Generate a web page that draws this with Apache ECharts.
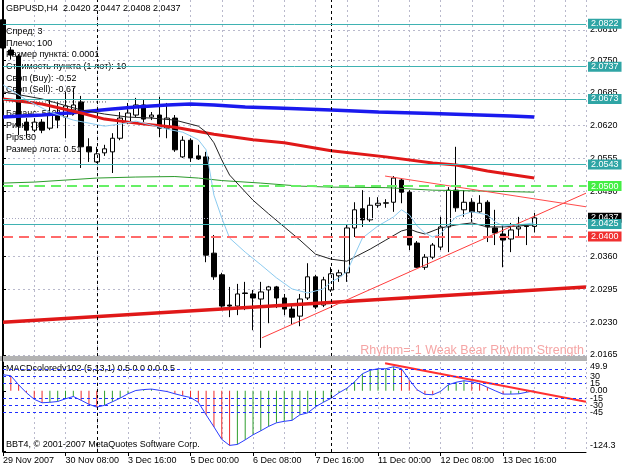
<!DOCTYPE html>
<html lang="ru">
<head>
<meta charset="UTF-8">
<title>GBPUSD,H4</title>
<script src="https://cdn.jsdelivr.net/npm/echarts@6/dist/echarts.min.js"></script>
<style>
  html, body { margin: 0; padding: 0; background: #fff; }
  #chart { width: 625px; height: 469px; }
</style>
</head>
<body>
<div id="chart"></div>
<script>
// H4 bars, 29 Nov 2007 00:00 .. 13 Dec 2007
var opens  = [2.0830,2.0770,2.0758,2.0627,2.0611,2.0627,2.0615,2.0641,2.0637,2.0651,
              2.0667,2.0578,2.0548,2.0566,2.0568,2.0595,2.0627,2.0641,2.0661,2.0637,
              2.0641,2.0615,2.0635,2.0558,2.0591,2.0560,2.0558,2.0367,2.0324,2.0264,
              2.0262,2.0288,2.0286,2.0276,2.0294,2.0300,2.0278,2.0256,2.0242,2.0278,
              2.0320,2.0264,2.0294,2.0322,2.0328,2.0417,2.0455,2.0433,2.0462,2.0466,
              2.0468,2.0512,2.0488,2.0387,2.0339,2.0359,2.0379,2.0419,2.0492,2.0453,
              2.0468,2.0449,2.0468,2.0417,2.0405,2.0395,2.0415,2.0421,2.0420];
var highs  = [2.0836,2.0776,2.0762,2.0635,2.0635,2.0633,2.0671,2.0667,2.0687,2.0695,
              2.0679,2.0595,2.0578,2.0582,2.0605,2.0647,2.0665,2.0675,2.0671,2.0647,
              2.0677,2.0665,2.0641,2.0599,2.0595,2.0582,2.0568,2.0403,2.0328,2.0300,
              2.0306,2.0310,2.0294,2.0310,2.0302,2.0302,2.0286,2.0266,2.0286,2.0347,
              2.0324,2.0320,2.0339,2.0334,2.0423,2.0468,2.0492,2.0478,2.0478,2.0474,
              2.0520,2.0516,2.0492,2.0391,2.0365,2.0387,2.0439,2.0498,2.0578,2.0492,
              2.0476,2.0482,2.0472,2.0453,2.0423,2.0427,2.0439,2.0423,2.0447];
var lows   = [2.0770,2.0751,2.0601,2.0595,2.0607,2.0605,2.0611,2.0615,2.0595,2.0641,
              2.0536,2.0548,2.0546,2.0560,2.0526,2.0591,2.0623,2.0637,2.0627,2.0631,
              2.0597,2.0595,2.0568,2.0556,2.0548,2.0552,2.0349,2.0314,2.0258,2.0240,
              2.0244,2.0254,2.0214,2.0179,2.0228,2.0258,2.0244,2.0226,2.0222,2.0274,
              2.0256,2.0260,2.0290,2.0310,2.0310,2.0399,2.0419,2.0429,2.0457,2.0457,
              2.0449,2.0466,2.0373,2.0338,2.0334,2.0355,2.0373,2.0369,2.0449,2.0439,
              2.0429,2.0447,2.0389,2.0383,2.0339,2.0369,2.0397,2.0383,2.0408];
var closes = [2.0774,2.0760,2.0619,2.0611,2.0627,2.0611,2.0645,2.0631,2.0659,2.0661,
              2.0578,2.0568,2.0564,2.0574,2.0595,2.0635,2.0645,2.0661,2.0633,2.0641,
              2.0615,2.0635,2.0572,2.0591,2.0556,2.0554,2.0363,2.0320,2.0262,2.0262,
              2.0286,2.0287,2.0278,2.0290,2.0300,2.0278,2.0256,2.0240,2.0276,2.0320,
              2.0260,2.0314,2.0326,2.0328,2.0417,2.0453,2.0433,2.0462,2.0466,2.0467,
              2.0516,2.0488,2.0383,2.0339,2.0359,2.0383,2.0419,2.0492,2.0457,2.0468,
              2.0449,2.0466,2.0419,2.0407,2.0393,2.0413,2.0419,2.0420,2.0437];

// time labels, one every 8 bars
var timeLabels = ['29 Nov 2007','30 Nov 08:00','3 Dec 16:00','5 Dec 00:00','6 Dec 08:00',
                  '7 Dec 16:00','11 Dec 00:00','12 Dec 08:00','13 Dec 16:00'];
var priceTicks = [2.0165,2.0230,2.0295,2.0360,2.0425,2.0490,2.0555,2.0620,2.0685,2.0750,2.0810];
var weekSeparators = [12, 42];

// moving averages as [bar, price]
var maBlue  = [[0,2.0637],[5,2.0641],[10,2.0647],[14,2.0653],[17,2.0657],[21,2.0661],[24,2.0663],
               [27,2.0661],[31,2.0657],[35,2.0655],[42,2.0651],[48,2.0647],[55,2.0644],[61,2.0641],
               [65,2.0639],[68,2.0637]];
var maRed   = [[0,2.0673],[5,2.0663],[10,2.0645],[13,2.0633],[17,2.0625],[22,2.0617],[27,2.0603],
               [32,2.0592],[36,2.0586],[42,2.0570],[49,2.0558],[55,2.0546],[58,2.0542],[62,2.0530],
               [68,2.0516]];
var maGreen = [[0,2.0506],[4,2.0508],[8,2.0512],[12,2.0516],[17,2.0518],[22,2.0519],[25,2.0516],
               [28,2.0511],[33,2.0506],[38,2.0500],[42,2.0498],[49,2.0497],[55,2.0492],[62,2.0490],
               [68,2.0488]];
var maBlack = [[0,2.0687],[5,2.0673],[10,2.0651],[13,2.0643],[16,2.0637],[19,2.0635],[22,2.0631],
               [25,2.0619],[26,2.0607],[27,2.0586],[28,2.0552],[29,2.0522],[32,2.0472],[34,2.0445],
               [36,2.0419],[38,2.0393],[40,2.0365],[42,2.0355],[44,2.0351],[45,2.0359],[47,2.0375],
               [49,2.0393],[51,2.0411],[52,2.0415],[53,2.0409],[54,2.0405],[56,2.0417],[58,2.0423],
               [60,2.0427],[62,2.0419],[64,2.0419],[66,2.0421],[68,2.0423]];
var maAqua  = [[0,2.0701],[3,2.0671],[6,2.0647],[9,2.0631],[13,2.0619],[15,2.0623],[17,2.0629],
               [19,2.0621],[21,2.0613],[23,2.0607],[25,2.0592],[26,2.0572],[27,2.0482],[28,2.0437],
               [29,2.0397],[31,2.0369],[33,2.0344],[35,2.0318],[37,2.0296],[39,2.0288],[41,2.0296],
               [42,2.0310],[43,2.0318],[44,2.0330],[45,2.0363],[46,2.0397],[48,2.0421],[50,2.0439],
               [51,2.0453],[52,2.0443],[53,2.0421],[54,2.0407],[55,2.0399],[56,2.0405],[57,2.0423],
               [58,2.0439],[60,2.0449],[62,2.0443],[63,2.0429],[64,2.0421],[66,2.0423],[68,2.0427]];

// trend lines [bar, price]
var trendUp     = [[33.15,2.0199],[74.62,2.0486]];
var trendDown   = [[48.9,2.0520],[74.62,2.0459]];
var trendLong   = [[0,2.0230],[74.62,2.0300]];
var shortDotted = [[0,2.0667],[13.2,2.0667]];

// horizontal levels
var tealLevels = [2.0822, 2.0737, 2.0673, 2.0543];
var bidPrice = 2.0437;
var tealLevelLow = 2.0425;
var greenLevel = 2.0500;
var redLevel = 2.0400;

// MACD (5,13,1)
var macd = [32.9,30.8,12.3,-4.1,-17.5,-24.6,-23.6,-22.0,-16.4,-11.7,
            -19.5,-27.7,-33.5,-29.8,-22.6,-15.0,-6.2,0.6,2.5,3.5,
            1.0,-1.6,-6.2,-10.3,-13.8,-23.6,-49.3,-74.0,-99.6,-112.0,
            -110.0,-100.6,-90.3,-82.0,-73.0,-65.7,-62.6,-60.6,-49.3,-45.2,
            -32.9,-23.6,-15.4,-4.1,5.1,18.5,34.9,42.1,45.2,45.2,
            49.3,45.2,22.6,2.1,-7.2,-8.2,-1.4,12.3,17.5,20.5,
            18.5,14.4,7.2,0.0,-6.8,-6.8,-6.2,-3.1,0.0];
var macdLevels = [45, 30, 15, -15, -30, -45];
var macdTicks = [49.9, 30, 15, 0, -15, -30, -45, -124.3];
var macdTickText = ['49.9', '30', '15', '0.00', '-15', '-30', '-45', '-124.3'];
var macdTrend = [[48.9,56.4],[74.62,-22.3]];

var FONT = '"Liberation Sans", Arial, sans-serif';
var X_MAX = 74.62;
var gridLine = { color: '#b9b9cc', type: [2, 3], width: 1 };

var chart = echarts.init(document.getElementById('chart'));

var candles = opens.map(function (o, i) { return [i, o, closes[i], lows[i], highs[i]]; });
var macdBars = macd.map(function (v, i) { return [i, v]; });
var tickBars = timeLabels.map(function (t, k) { return k * 8; });

function levelLine(value, color, type, width, labelBg) {
  return {
    yAxis: value,
    lineStyle: { color: color, type: type, width: width },
    label: {
      show: true, position: 'end', distance: 2,
      formatter: function () { return value.toFixed(4); },
      backgroundColor: labelBg, color: '#fff',
      fontFamily: FONT, fontSize: 9, padding: [1, 3, 0, 3]
    }
  };
}

function plainLine(data, color, width, type, xi, yi) {
  return {
    type: 'line', data: data, xAxisIndex: xi || 0, yAxisIndex: yi || 0,
    symbol: 'none', silent: true,
    lineStyle: { color: color, width: width, type: type || 'solid' }
  };
}

var levelItems = tealLevels.map(function (v) { return levelLine(v, '#3fb2b2', 'solid', 1, '#2fa5a5'); });
levelItems.push(levelLine(greenLevel, '#66f066', [10, 6], 2, '#44ee44'));
levelItems.push(levelLine(bidPrice, '#a8a8c0', [1, 2], 1, '#000'));
levelItems.push(levelLine(tealLevelLow, '#3fb2b2', 'solid', 1, '#2fa5a5'));
levelItems.push(levelLine(redLevel, '#ff6a6a', [10, 6], 2, '#f03030'));

var sepLine = {
  silent: true, symbol: ['none', 'none'], label: { show: false },
  lineStyle: { color: '#000', type: [3, 3], width: 1 },
  data: weekSeparators.map(function (b) { return { xAxis: b }; })
};

var lastBar = opens.length - 1;
var title = 'GBPUSD,H4  ' + [opens[lastBar], highs[lastBar], lows[lastBar], closes[lastBar]]
  .map(function (v) { return v.toFixed(4); }).join(' ');

var infoLines = [
  ['Спред: 3', 32], ['Плечо: 100', 43.5], ['Размер пункта: 0.0001', 55],
  ['Стоимость пункта (1 лот): 10', 67], ['Своп (Buy): -0.52', 79], ['Своп (Sell): -0.67', 90],
  ['Баланс: 5101.74', 114], ['Риск: 3%', 126], ['Pips:30', 138], ['Размер лота: 0.51', 150]
];

function txt(s, x, y, size, color, align) {
  return {
    type: 'text', x: x, y: y, z: 1, silent: true,
    style: { text: s, fill: color || '#000', font: (size || 9) + 'px ' + FONT,
             verticalAlign: 'middle', align: align || 'left' }
  };
}

var graphics = [
  { type: 'rect', z: 5, silent: true, shape: { x: 0, y: 356, width: 587, height: 5 },
    style: { fill: '#b3b3b3' } },
  { type: 'line', z: 5, silent: true, shape: { x1: 2.5, y1: 0, x2: 2.5, y2: 452 },
    style: { stroke: '#000', lineWidth: 1 } },
  txt(title, 6, 9),
  txt('MACDcoloredv102 (5,13,1) 0.5 0.0 0.0 0.5', 6, 369),
  txt('BBT4, © 2001-2007 MetaQuotes Software Corp.', 6, 445),
  txt('Rhythm=-1 Weak Bear Rhythm Strength', 584, 351, 12.5, '#f5a5a5', 'right')
];
infoLines.forEach(function (l) { graphics.push(txt(l[0], 6, l[1])); });

var option = {
  animation: false,
  backgroundColor: '#fff',
  textStyle: { fontFamily: FONT },
  grid: [
    { left: 3, top: 0, width: 583, height: 356 },
    { left: 3, top: 362, width: 583, height: 90 }
  ],
  xAxis: [
    { type: 'value', gridIndex: 0, min: 0, max: X_MAX, interval: 4,
      axisLine: { show: false }, axisTick: { show: false }, axisLabel: { show: false },
      splitLine: { show: true, lineStyle: gridLine } },
    { type: 'value', gridIndex: 1, min: 0, max: X_MAX, interval: 4, position: 'bottom',
      axisLine: { show: false }, axisTick: { show: false }, axisLabel: { show: false },
      splitLine: { show: true, lineStyle: gridLine } },
    { type: 'value', gridIndex: 1, min: 0, max: X_MAX, interval: 8, position: 'bottom',
      axisLine: { show: true, onZero: false, lineStyle: { color: '#000' } },
      axisTick: { show: true, length: 4, customValues: tickBars, lineStyle: { color: '#000' } },
      axisLabel: { customValues: tickBars, align: 'left', margin: 4, color: '#000', fontSize: 9,
                   fontFamily: FONT, showMaxLabel: true, hideOverlap: false,
                   formatter: function (v) { return timeLabels[Math.round(v / 8)] || ''; } },
      splitLine: { show: false } }
  ],
  yAxis: [
    { type: 'value', gridIndex: 0, position: 'right', min: 2.01629, max: 2.08693, scale: true,
      axisLine: { show: true, lineStyle: { color: '#000' } },
      axisTick: { show: true, length: 3, customValues: priceTicks, lineStyle: { color: '#000' } },
      axisLabel: { customValues: priceTicks, margin: 4, color: '#000', fontSize: 9, fontFamily: FONT,
                   formatter: function (v) { return v.toFixed(4); } },
      splitLine: { show: true, lineStyle: gridLine } },
    { type: 'value', gridIndex: 1, position: 'right', min: -125.5, max: 59,
      axisLine: { show: true, lineStyle: { color: '#000' } },
      axisTick: { show: true, length: 3, customValues: macdTicks, lineStyle: { color: '#000' } },
      axisLabel: { customValues: macdTicks, margin: 4, color: '#000', fontSize: 9, fontFamily: FONT,
                   formatter: function (v) {
                     var k = macdTicks.indexOf(v);
                     var s = k >= 0 ? macdTickText[k] : '';
                     return v === macdTicks[macdTicks.length - 1] ? '{lo|' + s + '}' : s;
                   },
                   rich: { lo: { fontSize: 9, fontFamily: FONT, color: '#000', padding: [0, 0, 12, 0] } } },
      splitLine: { show: false } }
  ],
  series: [
    { type: 'candlestick', xAxisIndex: 0, yAxisIndex: 0, data: candles,
      encode: { x: 0, y: [1, 2, 3, 4] }, barWidth: 5, silent: true,
      itemStyle: { color: '#fff', color0: '#000', borderColor: '#000', borderColor0: '#000', borderWidth: 1 },
      markLine: sepLine },
    plainLine(maBlue, '#1a1aee', 3.5),
    plainLine(maRed, '#e01818', 3),
    plainLine(maGreen, '#2b9a2b', 1),
    plainLine(maBlack, '#222', 1),
    plainLine(maAqua, '#8ccbf0', 1),
    plainLine(trendLong, '#e01818', 3.5),
    plainLine(trendUp, '#ff3c3c', 1),
    plainLine(trendDown, '#ff4a4a', 1),
    Object.assign(plainLine(shortDotted, '#555', 1, [1, 2]), {
      markLine: { silent: true, precision: 4, symbol: ['none', 'none'], data: levelItems }
    }),
    { type: 'bar', xAxisIndex: 1, yAxisIndex: 1, data: macdBars, barWidth: 1, silent: true,
      itemStyle: { color: function (p) {
        var i = p.dataIndex;
        return (i === 0 || macd[i] >= macd[i - 1]) ? '#2e9e2e' : '#ee2a2a';
      } },
      markLine: {
        silent: true, precision: 4, symbol: ['none', 'none'], label: { show: false },
        data: macdLevels.map(function (v) {
          return { yAxis: v, lineStyle: { color: '#2030ff', type: [3, 3], width: 1 } };
        }).concat(weekSeparators.map(function (b) {
          return { xAxis: b, lineStyle: { color: '#000', type: [3, 3], width: 1 } };
        }))
      } },
    plainLine(macdBars, '#2a3cff', 1, 'solid', 1, 1),
    plainLine(macdTrend, '#ff3030', 2, 'solid', 1, 1)
  ],
  graphic: graphics
};

chart.setOption(option);
</script>
</body>
</html>
